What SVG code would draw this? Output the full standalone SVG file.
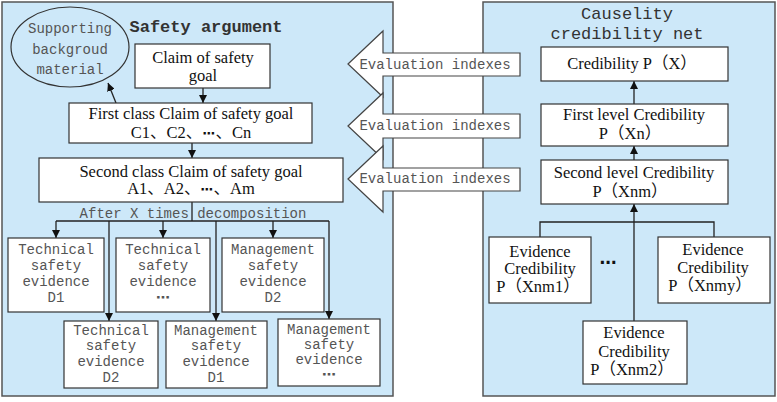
<svg xmlns="http://www.w3.org/2000/svg" width="777" height="402" viewBox="0 0 777 402">
<defs>
<style>
.panel{fill:#cde8f9;stroke:#555;stroke-width:1.5}
.box{fill:#fff;stroke:#333;stroke-width:1.2}
.ln{fill:none;stroke:#222;stroke-width:1.3}
.ser{font-family:"Liberation Serif","Noto Sans CJK SC",serif;font-size:16.5px;fill:#111;text-anchor:middle}
.mono{font-family:"Liberation Mono","DejaVu Sans Mono",monospace;font-size:14px;fill:#555;text-anchor:middle}
.title{font-family:"Liberation Mono","DejaVu Sans Mono",monospace;font-size:17px;fill:#333;text-anchor:middle}
.arr{fill:#fff;stroke:#444;stroke-width:1.2}
.dt{font-family:"DejaVu Sans",sans-serif;font-weight:bold}
</style>
<marker id="ah" viewBox="0 0 10 10" refX="10" refY="5" markerWidth="8" markerHeight="8" markerUnits="userSpaceOnUse" orient="auto">
<path d="M0,0 L10,5 L0,10 z" fill="#111"/>
</marker>
</defs>
<rect width="777" height="402" fill="#fff"/>
<g id="panel-left"><rect class="panel" x="2" y="2" width="391" height="394"/>
<text class="title" x="206" y="32" font-weight="bold">Safety argument</text></g>
<g id="panel-right"><rect class="panel" x="483" y="2" width="292" height="394"/>
<text class="title" x="627" y="19">Causelity</text>
<text class="title" x="627" y="39">credibility net</text></g>

<g id="connectors">
<line class="ln" x1="116" y1="103" x2="108" y2="83" marker-end="url(#ah)"/>
<line class="ln" x1="203" y1="88" x2="203" y2="103" marker-end="url(#ah)"/>
<line class="ln" x1="192" y1="143" x2="192" y2="158" marker-end="url(#ah)"/>
<polyline class="ln" points="192,202 192,221"/>
<polyline class="ln" points="56,221 329,221"/>
<line class="ln" x1="56" y1="221" x2="56" y2="238" marker-end="url(#ah)"/>
<line class="ln" x1="163" y1="221" x2="163" y2="238" marker-end="url(#ah)"/>
<line class="ln" x1="273" y1="221" x2="273" y2="238" marker-end="url(#ah)"/>
<line class="ln" x1="109" y1="221" x2="109" y2="321" marker-end="url(#ah)"/>
<line class="ln" x1="216" y1="221" x2="216" y2="321" marker-end="url(#ah)"/>
<line class="ln" x1="329" y1="221" x2="329" y2="319" marker-end="url(#ah)"/>
<line class="ln" x1="634" y1="104" x2="634" y2="81" marker-end="url(#ah)"/>
<line class="ln" x1="634" y1="160" x2="634" y2="146" marker-end="url(#ah)"/>
<line class="ln" x1="634" y1="321" x2="634" y2="204" marker-end="url(#ah)"/>
<polyline class="ln" points="540,237 540,222 714,222 714,237"/>
</g>

<g id="support"><ellipse cx="70" cy="47" rx="59" ry="40" fill="#cde8f9" stroke="#333" stroke-width="1.2"/>
<text class="mono" x="70" y="33">Supporting</text>
<text class="mono" x="70" y="54">backgroud</text>
<text class="mono" x="70" y="74">material</text></g>

<g id="claim"><rect class="box" x="135" y="44" width="135" height="44"/>
<text class="ser" x="203" y="63">Claim of safety</text>
<text class="ser" x="203" y="81">goal</text></g>

<g id="first-class"><rect class="box" x="69" y="103" width="243" height="40"/>
<text class="ser" x="191" y="119">First class Claim of safety goal</text>
<text class="ser" x="191" y="138">C1、C2、<tspan class="dt" font-size="13">⋯</tspan>、Cn</text></g>

<g id="second-class"><rect class="box" x="39" y="158" width="304" height="44"/>
<text class="ser" x="191" y="177">Second class Claim of safety goal</text>
<text class="ser" x="191" y="194">A1、A2、<tspan class="dt" font-size="13">⋯</tspan>、Am</text></g>

<g id="decomp-label"><text class="mono" x="193" y="218">After X times decomposition</text></g>

<g id="tech-d1"><rect class="box" x="8" y="238" width="96" height="74"/>
<text class="mono" x="56" y="254">Technical</text><text class="mono" x="56" y="270">safety</text><text class="mono" x="56" y="286">evidence</text><text class="mono" x="56" y="302">D1</text></g>
<g id="tech-more"><rect class="box" x="116" y="238" width="94" height="74"/>
<text class="mono" x="163" y="254">Technical</text><text class="mono" x="163" y="270">safety</text><text class="mono" x="163" y="286">evidence</text><text class="mono dt" x="163" y="302" font-size="12">⋯</text></g>
<g id="mgmt-d2"><rect class="box" x="222" y="238" width="102" height="74"/>
<text class="mono" x="273" y="254">Management</text><text class="mono" x="273" y="270">safety</text><text class="mono" x="273" y="286">evidence</text><text class="mono" x="273" y="302">D2</text></g>
<g id="tech-d2"><rect class="box" x="64" y="321" width="94" height="67"/>
<text class="mono" x="111" y="335">Technical</text><text class="mono" x="111" y="350">safety</text><text class="mono" x="111" y="366">evidence</text><text class="mono" x="111" y="382">D2</text></g>
<g id="mgmt-d1"><rect class="box" x="166" y="321" width="101" height="67"/>
<text class="mono" x="216" y="335">Management</text><text class="mono" x="216" y="350">safety</text><text class="mono" x="216" y="366">evidence</text><text class="mono" x="216" y="382">D1</text></g>
<g id="mgmt-more"><rect class="box" x="278" y="319" width="102" height="67"/>
<text class="mono" x="329" y="334">Management</text><text class="mono" x="329" y="349">safety</text><text class="mono" x="329" y="364">evidence</text><text class="mono dt" x="329" y="379" font-size="12">⋯</text></g>

<g id="eval1"><path class="arr" d="M348,64 L383,31 L383,53 L520,53 L520,76 L383,76 L383,97 Z"/>
<text class="mono" x="435" y="69">Evaluation indexes</text></g>
<g id="eval2"><path class="arr" d="M348,126 L383,93 L383,114 L520,114 L520,138 L383,138 L383,159 Z"/>
<text class="mono" x="435" y="130">Evaluation indexes</text></g>
<g id="eval3"><path class="arr" d="M348,179 L383,146 L383,168 L520,168 L520,191 L383,191 L383,212 Z"/>
<text class="mono" x="435" y="183">Evaluation indexes</text></g>

<g id="cred-x"><rect class="box" x="541" y="47" width="187" height="34"/>
<text class="ser" x="632" y="69">Credibility P（X）</text></g>
<g id="cred-first"><rect class="box" x="541" y="104" width="187" height="42"/>
<text class="ser" x="634" y="120">First level Credibility</text>
<text class="ser" x="630" y="139">P（Xn）</text></g>
<g id="cred-second"><rect class="box" x="541" y="160" width="187" height="44"/>
<text class="ser" x="634" y="178">Second level Credibility</text>
<text class="ser" x="630" y="197">P（Xnm）</text></g>
<g id="ev1"><rect class="box" x="489" y="237" width="102" height="66"/>
<text class="ser" x="540" y="257">Evidence</text><text class="ser" x="540" y="274">Credibility</text><text class="ser" x="538" y="292">P（Xnm1）</text></g>
<g id="dots"><text class="ser dt" x="608" y="268" font-size="14">⋯</text></g>
<g id="evy"><rect class="box" x="658" y="237" width="112" height="66"/>
<text class="ser" x="713" y="255">Evidence</text><text class="ser" x="713" y="273">Credibility</text><text class="ser" x="710" y="291">P（Xnmy）</text></g>
<g id="ev2"><rect class="box" x="583" y="321" width="104" height="63"/>
<text class="ser" x="634" y="338">Evidence</text><text class="ser" x="634" y="357">Credibility</text><text class="ser" x="632" y="375">P（Xnm2）</text></g>
</svg>
